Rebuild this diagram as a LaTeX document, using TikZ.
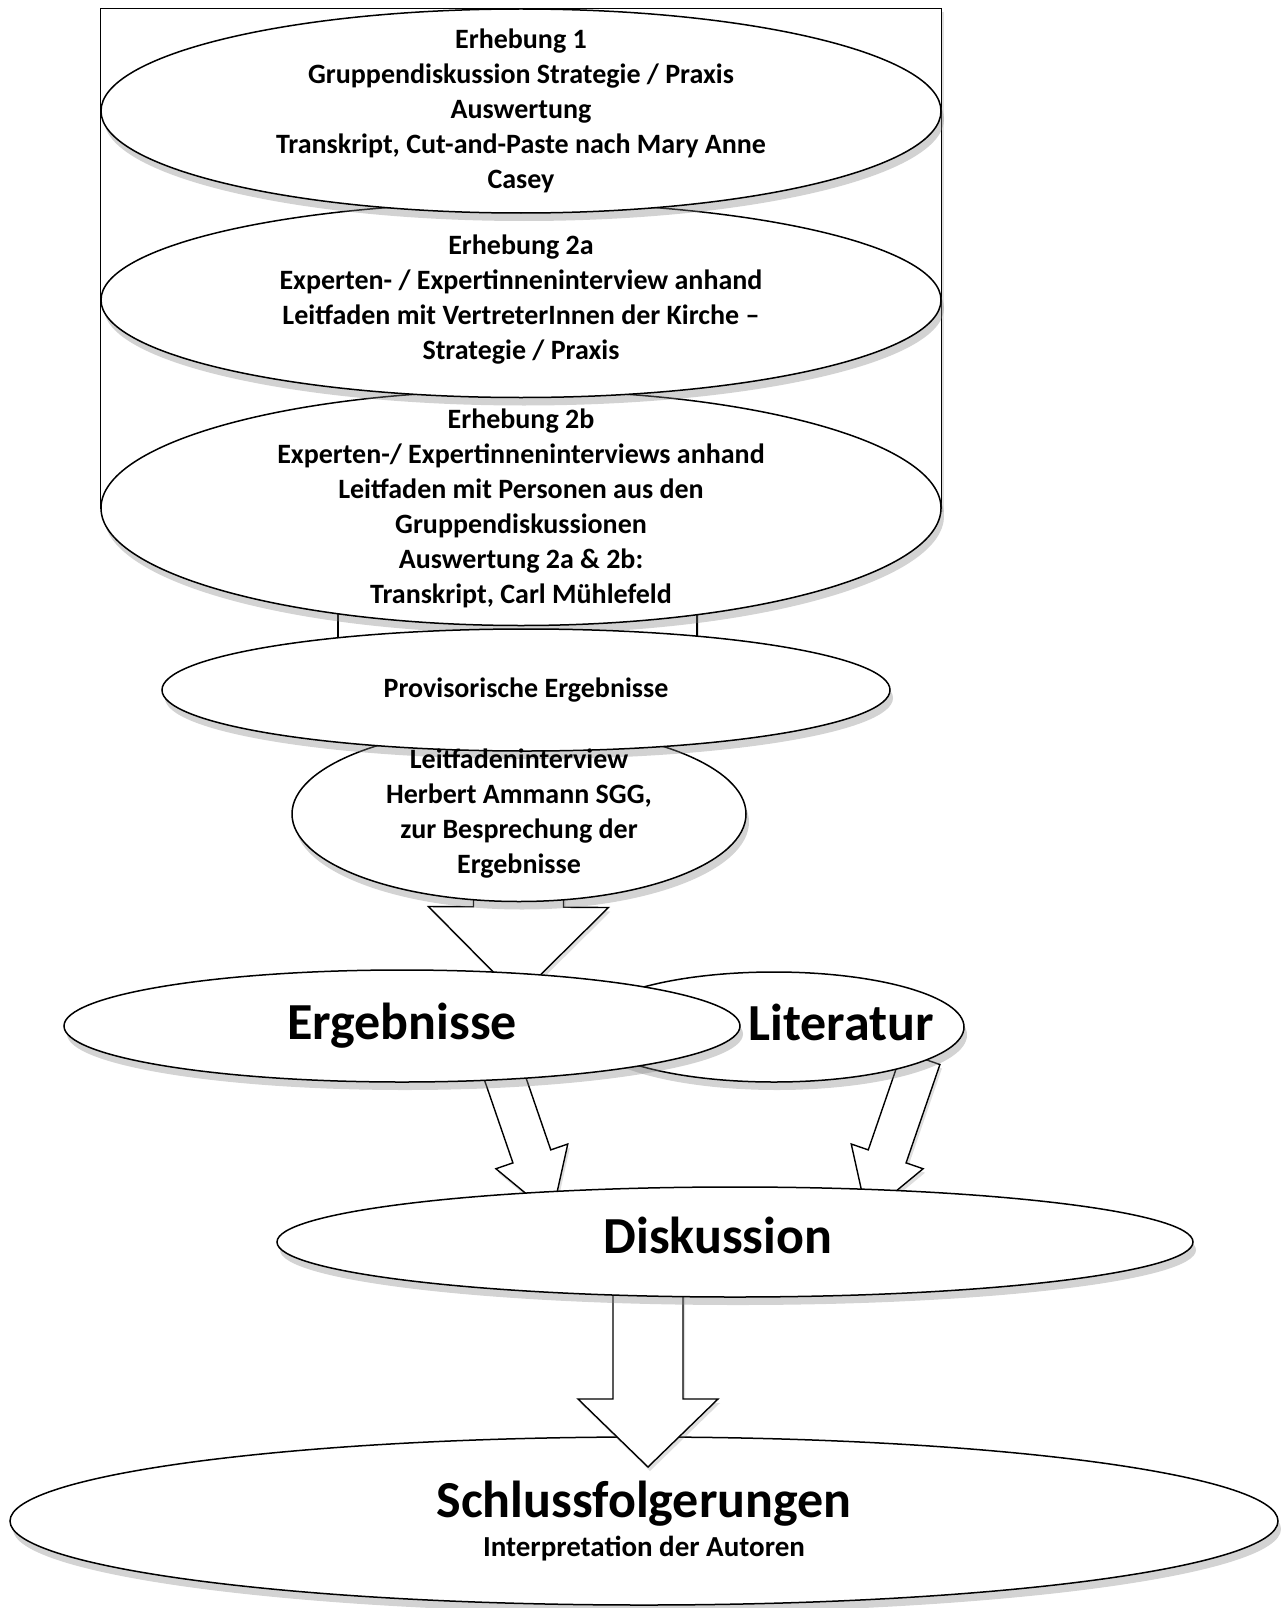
\documentclass[tikz,border=0pt]{standalone}
\usepackage{fontspec}
\setmainfont{Carlito}
\usetikzlibrary{shapes.geometric,calc,shadows}

\pgfdeclarelayer{bottom}
\pgfdeclarelayer{arrowlayer}
\pgfdeclarelayer{front}
\pgfsetlayers{bottom,arrowlayer,main,front}

% block arrow: tail, tip, half shaft width, half head width, head length
\newcommand{\blockarrow}[5]{%
  \path ($(#2)!#5!(#1)$) coordinate (hb);
  \draw [arrowbox] ($(#1)!#3!90:(#2)$) -- ($(hb)!#3!90:(#2)$) -- ($(hb)!#4!90:(#2)$) -- (#2)
    -- ($(hb)!#4!-90:(#2)$) -- ($(hb)!#3!-90:(#2)$) -- ($(#1)!#3!-90:(#2)$) -- cycle;
}

\begin{document}
\begin{tikzpicture}[x=1pt, y=-1pt,
  bubble/.style={ellipse, draw, line width=1.5pt, fill=white, align=center,
    inner xsep=0pt, inner ysep=-25pt,
    drop shadow={shadow xshift=3pt, shadow yshift=-8pt, opacity=0.35}},
  arrowbox/.style={draw, line width=1.4pt, fill=white, line join=miter,
    drop shadow={shadow xshift=2pt, shadow yshift=-4pt, opacity=0.25}},
  small/.style={font=\fontsize{28}{35}\selectfont\bfseries},
  big/.style={font=\fontsize{52}{60}\selectfont\bfseries}]

  \useasboundingbox (0,0) rectangle (1281,1608);

  % Erhebungen
  \node [bubble, small, minimum width=840, minimum height=235] (e2b) at (521,508)
    {Erhebung 2b\\Experten-/ Expertinneninterviews anhand\\Leitfaden mit Personen aus den\\Gruppendiskussionen\\Auswertung 2a \& 2b:\\Transkript, Carl Mühlefeld};
  \node [bubble, small, minimum width=840, minimum height=195] (e2a) at (521,300)
    {Erhebung 2a\\Experten- / Expertinneninterview anhand\\Leitfaden mit VertreterInnen der Kirche --\\Strategie / Praxis};
  \node [bubble, small, minimum width=840, minimum height=204] (e1) at (521,111)
    {Erhebung 1\\Gruppendiskussion Strategie / Praxis\\Auswertung\\Transkript, Cut-and-Paste nach Mary Anne\\Casey};

  % Zwischenergebnisse
  \node [bubble, minimum width=454, minimum height=175] (leit) at (519,814) {};
  \node [bubble, small, minimum width=728, minimum height=122] (prov) at (526,690)
    {Provisorische Ergebnisse};
  \begin{pgfonlayer}{front}
    \node [small, align=center] (leittext) at (leit.center)
      {Leitfadeninterview\\Herbert Ammann SGG,\\zur Besprechung der\\Ergebnisse};
  \end{pgfonlayer}

  \node [bubble, minimum width=380, minimum height=110,
    label={[big, xshift=67pt, yshift=5pt]center:Literatur}] (lit) at (774,1027) {};
  \node [bubble, big, minimum width=676, minimum height=112] (erg) at (402,1026) {Ergebnisse};
  \node [bubble, minimum width=916, minimum height=110,
    label={[big, xshift=-17pt, yshift=7pt]center:Diskussion}] (disk) at (735,1242) {};

  \begin{pgfonlayer}{bottom}
    \node [bubble, minimum width=1268, minimum height=168] (schluss) at (644,1521)
      {{\fontsize{52}{56}\selectfont\bfseries Schlussfolgerungen}\\[8pt]
       {\fontsize{29}{35}\selectfont\bfseries Interpretation der Autoren}};
  \end{pgfonlayer}

  \coordinate (ergtip) at (518,997);
  \coordinate (ergout) at (497,1055);
  \coordinate (diskin1) at (552,1215);
  \coordinate (litout) at (921,1058);
  \coordinate (diskin2) at (867,1215);
  \coordinate (schlusstip) at (648,1467);
  \coordinate (diskout) at (disk.center -| schlusstip);

  \begin{pgfonlayer}{arrowlayer}
    \draw [arrowbox] (e1.west |- e1.north) rectangle (e2b.center -| e1.east);
    \draw [arrowbox] ($(e2b.center)+(-183,0)$) rectangle ($(prov.center)+(171,0)$);
    \blockarrow{leit.center}{ergtip}{45pt}{90pt}{90pt}
    \blockarrow{ergout}{diskin1}{20pt}{38pt}{62pt}
    \blockarrow{litout}{diskin2}{20pt}{38pt}{62pt}
    \blockarrow{diskout}{schlusstip}{35pt}{70pt}{68pt}
  \end{pgfonlayer}

\end{tikzpicture}
\end{document}
